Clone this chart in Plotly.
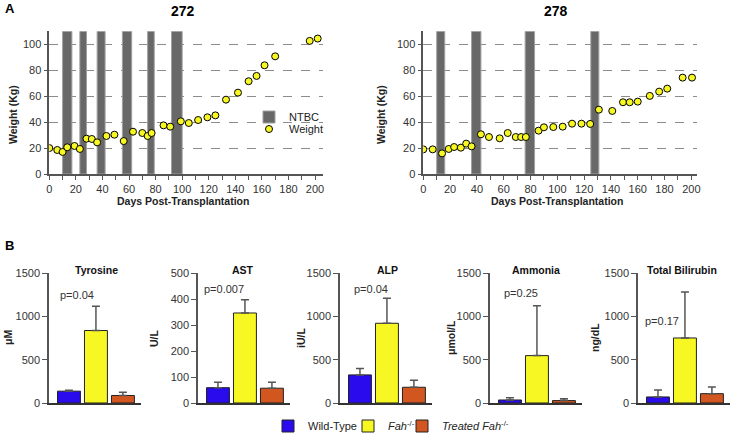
import plotly.graph_objects as go

W, H = 732, 434


def fx(p):
    return p / W


def fy(p):
    return 1 - p / H


# ---------------- Panel A data ----------------
days_272 = [0, 6, 10, 13.5, 19, 23, 28, 32, 36, 43, 49, 56, 63, 70, 74, 77, 86, 91, 99,
            105, 112, 119, 125, 133, 142, 150, 156, 162, 170, 196, 202]
weight_272 = [20, 18.5, 17, 20.6, 21.6, 19.3, 27.2, 27, 24.4, 29.3, 30.3, 25.4, 32.6, 31.6,
              29.3, 31.6, 37.5, 36.5, 40.6, 39.3, 41.6, 43.7, 45.2, 57.3, 62.7, 71.5, 75.6,
              83.8, 90.7, 102.6, 104.4]
ntbc_272_start = [10, 23, 36, 55, 74, 92]
ntbc_272_end = [17, 28, 42, 62, 79, 100]

days_278 = [0, 7, 14, 19, 23, 28, 32, 36, 43, 49, 57, 63, 69, 73, 76.5, 86, 90, 97, 104,
            111, 118, 124.5, 131, 141, 149, 154, 160, 169, 176, 182, 193.5, 200.5]
weight_278 = [19, 19, 15.9, 19.3, 20.8, 20.3, 23.4, 21.3, 30.6, 28.5, 27.5, 31.6, 28.5, 28.5,
              28.5, 33.4, 36, 36.2, 36.5, 38.8, 38.8, 38.6, 49.6, 48.6, 55.3, 55.3, 55.8,
              60.2, 63.5, 65.8, 74.3, 74.3]
ntbc_278_start = [10, 36, 76, 125]
ntbc_278_end = [16, 43, 83, 131]

ntbc_top = 110
x_ticks = list(range(0, 201, 20))
y_ticks_a = [0, 20, 40, 60, 80, 100]

# ---------------- Panel B data ----------------
analytes = ["Tyrosine", "AST", "ALP", "Ammonia", "Total Bilirubin"]
units = ["μM", "U/L", "iU/L", "μmol/L", "ng/dL"]
groups = ["Wild-Type", "<i>Fah</i><sup>-/-</sup>", "<i>Treated Fah</i><sup>-/-</sup>"]
wt_mean = [137, 59, 325, 35, 70]
wt_err = [10, 21, 75, 27, 80]
fah_mean = [838, 347, 922, 548, 752]
fah_err = [281, 51, 289, 578, 532]
trt_mean = [87, 57, 182, 28, 108]
trt_err = [36, 23, 81, 22, 77]
p_values = ["p=0.04", "p=0.007", "p=0.04", "p=0.25", "p=0.17"]
y_max = [1500, 500, 1500, 1500, 1500]
y_dtick = [500, 100, 500, 500, 500]

FONT = "Arial, Liberation Sans, sans-serif"
AXIS_GREY = "#555555"
GRID = "#8c8c8c"
YELLOW = "#F7F723"
BLUE = "#2A0BEE"
ORANGE = "#D2561F"
NTBC_GREY = "#686868"

fig = go.Figure()

# ---- Panel A traces ----
panels_a = [
    ("x", "y", days_272, weight_272, ntbc_272_start, ntbc_272_end, True),
    ("x2", "y2", days_278, weight_278, ntbc_278_start, ntbc_278_end, False),
]
for xa, ya, d, w, s, e, show in panels_a:
    centers = [(a + b) / 2 for a, b in zip(s, e)]
    widths = [b - a for a, b in zip(s, e)]
    fig.add_trace(go.Bar(
        x=centers, y=[ntbc_top] * len(s), width=widths, base=0,
        marker=dict(color=NTBC_GREY, line=dict(color="#a0a0a0", width=1)),
        name="NTBC", showlegend=show, legend="legend", xaxis=xa, yaxis=ya,
    ))
    fig.add_trace(go.Scatter(
        x=d, y=w, mode="markers",
        marker=dict(color=YELLOW, size=7, line=dict(color="black", width=1)),
        name="Weight", showlegend=show, legend="legend3", xaxis=xa, yaxis=ya,
    ))

# ---- Panel B traces ----
legend_names = ["legend2", "legend4", "legend5"]
for i in range(5):
    xa, ya = f"x{i + 3}", f"y{i + 3}"
    for j, (means, errs, col) in enumerate([(wt_mean, wt_err, BLUE),
                                            (fah_mean, fah_err, YELLOW),
                                            (trt_mean, trt_err, ORANGE)]):
        fig.add_trace(go.Bar(
            x=[j], y=[means[i]], width=0.85,
            marker=dict(color=col, line=dict(color="#222222", width=1)),
            error_y=dict(type="data", symmetric=False, array=[errs[i]], arrayminus=[0],
                         color=AXIS_GREY, thickness=1.5, width=4),
            name=groups[j], showlegend=(i == 0), legend=legend_names[j],
            xaxis=xa, yaxis=ya,
        ))

layout = dict(
    width=W, height=H,
    margin=dict(l=0, r=0, t=0, b=0, autoexpand=False),
    paper_bgcolor="white", plot_bgcolor="white",
    font=dict(family=FONT, size=11, color="#222222"),
    barmode="overlay",
    showlegend=True,
)

# Panel A axes
a_dom_x = [[fx(49.3), fx(323)], [fx(423.3), fx(696.7)]]
a_rng_x = [[0, 206], [0, 204]]
a_dom_y = [fy(174), fy(31.3)]
for k in range(2):
    sx = "" if k == 0 else "2"
    layout[f"xaxis{sx}"] = dict(
        domain=a_dom_x[k], range=a_rng_x[k], anchor=f"y{sx}",
        showline=True, linecolor=AXIS_GREY, linewidth=1.5,
        ticks="outside", ticklen=4, tickcolor=AXIS_GREY, tickwidth=1,
        tickvals=x_ticks, showgrid=False, zeroline=False,
        minor=dict(ticks="outside", ticklen=4, tickcolor=AXIS_GREY, tickwidth=1,
                   dtick=10, tick0=0, showgrid=False),
        tickfont=dict(size=11, color="#333333"), automargin=False,
    )
    layout[f"yaxis{sx}"] = dict(
        domain=a_dom_y, range=[0, 110], anchor=f"x{sx}",
        showline=True, linecolor=AXIS_GREY, linewidth=1.5,
        ticks="outside", ticklen=4, tickcolor=AXIS_GREY, tickwidth=1,
        tickvals=y_ticks_a, showgrid=True, gridcolor=GRID, griddash="dash", gridwidth=1,
        zeroline=False, tickfont=dict(size=11, color="#333333"), automargin=False,
    )

# Panel B axes
b_left = [49, 198, 340, 490, 638]
b_width = 92
b_dom_y = [fy(403), fy(273.3)]
for i in range(5):
    n = i + 3
    layout[f"xaxis{n}"] = dict(
        domain=[fx(b_left[i]), fx(b_left[i] + b_width)], range=[-0.74, 2.67],
        anchor=f"y{n}", showline=True, linecolor="#333333", linewidth=1.5,
        showticklabels=False, ticks="", showgrid=False, zeroline=False, automargin=False,
    )
    layout[f"yaxis{n}"] = dict(
        domain=b_dom_y, range=[0, y_max[i]], anchor=f"x{n}",
        showline=True, linecolor=AXIS_GREY, linewidth=1.5,
        ticks="outside", ticklen=5, tickcolor=AXIS_GREY, tickwidth=1,
        dtick=y_dtick[i], tick0=0, showgrid=False, zeroline=False,
        tickfont=dict(size=11, color="#333333"), automargin=False,
    )

# Legends (one entry each, placed individually)
leg_common = dict(xanchor="left", yanchor="middle", bgcolor="rgba(0,0,0,0)",
                  font=dict(size=11, color="#222222"), itemwidth=30)
layout["legend"] = dict(x=fx(249), y=fy(117), **leg_common)
layout["legend3"] = dict(x=fx(249), y=fy(129), **leg_common)
layout["legend2"] = dict(x=fx(268), y=fy(426), **leg_common)
layout["legend4"] = dict(x=fx(348), y=fy(426), **leg_common)
layout["legend5"] = dict(x=fx(402), y=fy(426), **leg_common)

ann = []


def add_text(text, cx, cy, size, color, angle=0, anchor="center"):
    ann.append(dict(text=text, x=fx(cx), y=fy(cy), xref="paper", yref="paper",
                    showarrow=False, xanchor=anchor, yanchor="middle", textangle=angle,
                    font=dict(size=size, color=color)))


# Panel letters and titles
add_text("<b>A</b>", 3, 8, 13, "black", anchor="left")
add_text("<b>B</b>", 3, 245, 13, "black", anchor="left")
add_text("<b>272</b>", 183, 11, 14, "black")
add_text("<b>278</b>", 556, 11, 14, "black")
# Panel A axis titles
for cx in [183, 557]:
    add_text("<b>Days Post-Transplantation</b>", cx, 200.5, 10.5, "#222222")
for cx in [13, 381]:
    add_text("<b>Weight (Kg)</b>", cx, 115, 10.5, "#222222", angle=-90)
# Panel B titles, units, p-values
unit_x = [8, 154, 301, 451, 595]
title_cx = [96, 243, 387, 536, 682]
p_x = [58, 202, 352, 502, 643]
p_y = [295, 289, 289, 293, 321]
for i in range(5):
    add_text(f"<b>{analytes[i]}</b>", title_cx[i], 270, 10.5, "#111111")
    add_text(f"<b>{units[i]}</b>", unit_x[i], 338, 10.5, "#222222", angle=-90)
    add_text(p_values[i], p_x[i], p_y[i], 11, "#333333", anchor="left")

layout["annotations"] = ann
fig.update_layout(**layout)
fig.write_html(
    "out.html",
    config={"displayModeBar": False},
    post_script="document.body.style.margin='0px';document.body.style.padding='0px';",
)
